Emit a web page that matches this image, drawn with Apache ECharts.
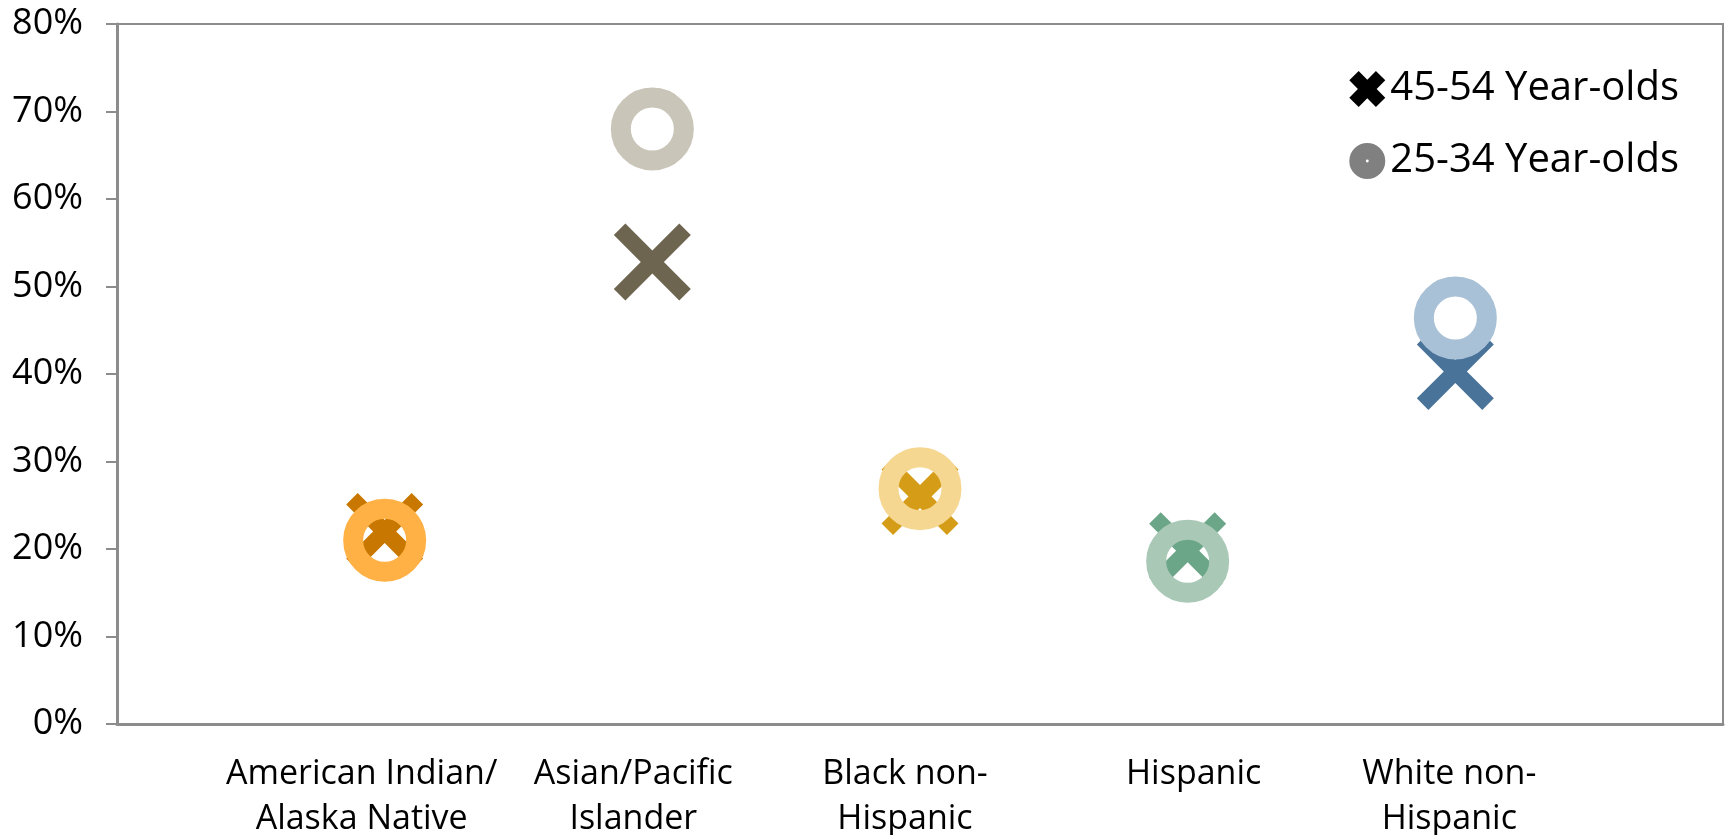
<!DOCTYPE html>
<html>
<head>
<meta charset="utf-8">
<script src="https://cdn.jsdelivr.net/npm/echarts@6/dist/echarts.min.js"></script>
<style>
html,body{margin:0;padding:0;background:#fff;}
#chart{width:1729px;height:835px;}
</style>
</head>
<body>
<div id="chart"></div>
<script>
var categories = ['American Indian/\nAlaska Native', 'Asian/Pacific\nIslander', 'Black non-\nHispanic', 'Hispanic', 'White non-\nHispanic'];
var values4554 = [22, 52.8, 26, 19.8, 40.3];
var values2534 = [21, 68, 26.9, 18.6, 46.4];
var yTicks = [0, 10, 20, 30, 40, 50, 60, 70, 80];
var colors4554 = ['#C87800', '#6D654F', '#D59C17', '#6CA688', '#4A7399'];
var colors2534 = ['#FFB145', '#CAC5B9', '#F6D792', '#A9C8B6', '#A9C1D6'];

var xPath = 'path://M0,15L15,0L50,35L85,0L100,15L65,50L100,85L85,100L50,65L15,100L0,85L35,50Z';
var xLegendPath = 'path://M0,26L26,0L50,24L74,0L100,26L76,50L100,74L74,100L50,76L26,100L0,74L24,50Z';
var ringLegendPath = 'path://M0,50A50,50,0,1,0,100,50A50,50,0,1,0,0,50Z M46,50A4,4,0,1,1,54,50A4,4,0,1,1,46,50Z';
var FONT = '"Open Sans", "Noto Sans", sans-serif';

// horizontal nudges of the category text boxes (text layout only)
var labelShift = [-23, -19, -15, 6, -6];
var rich = {};
labelShift.forEach(function (d, i) {
  rich['c' + i] = {
    fontFamily: FONT, fontSize: 34, color: '#000', lineHeight: 45,
    padding: d < 0 ? [0, -2 * d, 0, 0] : [0, 0, 0, 2 * d]
  };
});

var chart = echarts.init(document.getElementById('chart'));
chart.setOption({
  animation: false,
  backgroundColor: '#fff',
  grid: {left: 117, right: 6, top: 24, bottom: 111, show: true, borderColor: '#8c8c8c', borderWidth: 2, containLabel: false, outerBoundsMode: 'none'},
  legend: {
    orient: 'vertical', right: 50, top: 69, padding: 0, itemGap: 32,
    itemWidth: 36, itemHeight: 36,
    textStyle: {fontFamily: FONT, fontSize: 40, color: '#000'},
    data: [
      {name: '45-54 Year-olds', icon: xLegendPath, itemStyle: {color: '#000', borderWidth: 0}},
      {name: '25-34 Year-olds', icon: ringLegendPath, itemStyle: {color: '#808080', borderWidth: 0}}
    ]
  },
  xAxis: {
    type: 'value', min: 0, max: 6, interval: 1,
    splitLine: {show: false},
    axisTick: {show: false},
    axisLine: {show: true, onZero: false, lineStyle: {color: '#8c8c8c', width: 3}},
    axisLabel: {
      fontFamily: FONT, fontSize: 34, color: '#000', lineHeight: 45, margin: 28,
      rich: rich,
      formatter: function (v) {
        var i = Math.round(v);
        if (Math.abs(v - i) > 1e-6 || i < 1 || i > categories.length) return '';
        return categories[i - 1].split('\n').map(function (line) {
          return '{c' + (i - 1) + '|' + line + '}';
        }).join('\n');
      }
    }
  },
  yAxis: {
    type: 'value', min: yTicks[0], max: yTicks[yTicks.length - 1], interval: yTicks[1] - yTicks[0],
    splitLine: {show: false},
    axisLine: {show: true, lineStyle: {color: '#8c8c8c', width: 3}},
    axisTick: {show: true, length: 11, lineStyle: {color: '#8c8c8c', width: 2}},
    axisLabel: {fontFamily: FONT, fontSize: 36, color: '#000', margin: 34, formatter: '{value}%'}
  },
  series: [
    {
      name: '45-54 Year-olds', type: 'scatter', symbol: xPath, symbolSize: [77, 77], z: 2,
      itemStyle: {color: '#000', opacity: 1},
      data: values4554.map(function (v, i) {
        return {value: [i + 1, v], itemStyle: {color: colors4554[i]}};
      })
    },
    {
      name: '25-34 Year-olds', type: 'scatter', symbol: 'circle', symbolSize: 63, z: 3,
      itemStyle: {color: 'rgba(0,0,0,0)', borderColor: '#808080', borderWidth: 20, opacity: 1},
      data: values2534.map(function (v, i) {
        return {value: [i + 1, v], itemStyle: {color: 'rgba(0,0,0,0)', borderColor: colors2534[i], borderWidth: 20}};
      })
    }
  ]
});
</script>
</body>
</html>
